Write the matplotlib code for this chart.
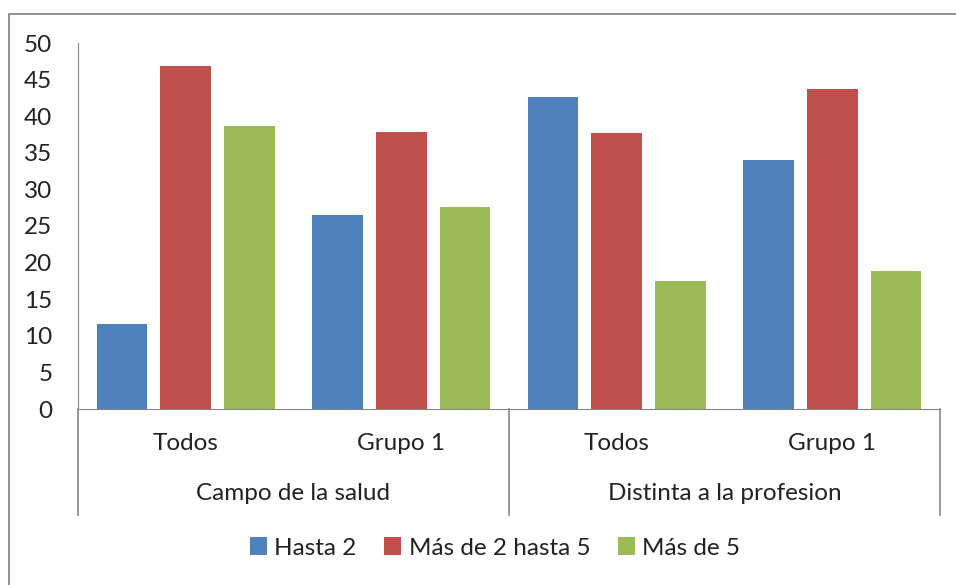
import matplotlib
matplotlib.use("Agg")
import matplotlib.pyplot as plt
from matplotlib.patches import Rectangle, Patch
from matplotlib.lines import Line2D
import numpy as np

plt.rcParams['font.family'] = ['Lato', 'DejaVu Sans']

categories = ["Todos", "Grupo 1", "Todos", "Grupo 1"]
groups = ["Campo de la salud", "Distinta a la profesion"]
series_names = ["Hasta 2", "Más de 2 hasta 5", "Más de 5"]
hasta2 = [11.6, 26.5, 42.6, 34.0]
mas2hasta5 = [46.8, 37.8, 37.7, 43.7]
mas5 = [38.7, 27.6, 17.5, 18.9]
colors = ["#4F81BD", "#C0504D", "#9BBB59"]
yticks = [0, 5, 10, 15, 20, 25, 30, 35, 40, 45, 50]

FS = 17.5
W, H = 956, 585
fig = plt.figure(figsize=(W / 100, H / 100), dpi=100)
ax = fig.add_axes([78 / W, (H - 409) / H, (940 - 78) / W, (409 - 43) / H])

x = np.arange(len(categories))
bw = 0.235
step = 0.295
for i, (vals, c, name) in enumerate(zip([hasta2, mas2hasta5, mas5], colors, series_names)):
    ax.bar(x + (i - 1) * step, vals, width=bw, color=c, label=name, zorder=2)

ax.set_xlim(-0.5, len(categories) - 0.5)
ax.set_ylim(0, 50)
ax.set_yticks(yticks)
ax.set_yticklabels([str(v) for v in yticks])
ax.tick_params(axis='y', length=0, pad=18.5, labelsize=FS, labelcolor="#222222")
ax.set_xticks([])
gray = "#868686"
for s in ["top", "right"]:
    ax.spines[s].set_visible(False)
ax.spines["left"].set_color(gray)
ax.spines["bottom"].set_color(gray)
ax.spines["left"].set_bounds(0, 50)

# extended axis lines below plot (category area)
trans = ax.get_xaxis_transform()
depth = (515 - 409) / (409 - 43)
for xv in [-0.5, 1.5, 3.5]:
    ax.add_line(Line2D([xv, xv], [0, -depth], transform=trans, color=gray,
                       lw=1.2, clip_on=False))

cat_y = -(443 - 409) / (409 - 43)
grp_y = -(494 - 409) / (409 - 43)
for xi, lab in zip(x, categories):
    ax.text(xi, cat_y, lab, transform=trans, ha="center", va="center",
            fontsize=FS, color="#222222")
for gi, g in enumerate(groups):
    ax.text(gi * 2 + 0.5, grp_y, g, transform=trans, ha="center", va="center",
            fontsize=FS, color="#222222")

# figure border
fig.patches.append(Rectangle((9 / W, -0.1), 1.2, (H - 14) / H + 0.1,
                             transform=fig.transFigure, fill=False,
                             edgecolor="#878787", lw=1.3))

handles = [Patch(facecolor=c, edgecolor="none") for c in colors]
fig.legend(handles, series_names, loc="center", ncol=3,
           bbox_to_anchor=(495 / W, (H - 548) / H), frameon=False,
           fontsize=FS, handlelength=0.7, handleheight=0.7,
           handletextpad=0.3, columnspacing=1.15, labelcolor="#222222")

fig.savefig("out.png", dpi=100)
